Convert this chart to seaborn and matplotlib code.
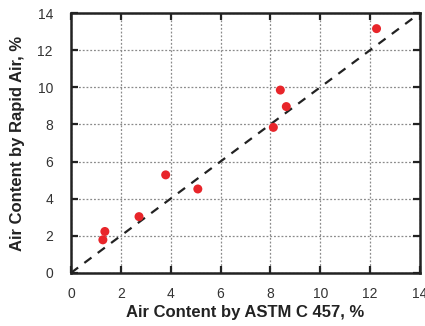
import matplotlib
matplotlib.use("Agg")
import matplotlib.pyplot as plt
import seaborn as sns
import pandas as pd

astm = [12.26, 8.40, 8.64, 8.12, 3.80, 5.09, 2.73, 1.36, 1.28]
rapid = [13.16, 9.85, 8.96, 7.84, 5.28, 4.52, 3.03, 2.23, 1.78]
line_x = [0, 14]
line_y = [0, 14]
ticks = [0, 2, 4, 6, 8, 10, 12, 14]

sns.set_theme(style="white")
plt.rcParams['font.family'] = ['Liberation Sans', 'DejaVu Sans']

df = pd.DataFrame({"astm": astm, "rapid": rapid})
fig = plt.figure(figsize=(4.25, 3.26), dpi=100)
ax = fig.add_axes([0.167, 0.163, 0.821, 0.797])

ax.set_xlim(0, 14)
ax.set_ylim(0, 14)
ax.set_xticks(ticks)
ax.set_yticks(ticks)
ax.grid(True, linestyle=(0, (1.5, 1.5)), color="#8a8a8a", linewidth=0.9)
sns.lineplot(x=line_x, y=line_y, ax=ax, color="#222222", linestyle=(0, (4, 3.5)), linewidth=1.6, zorder=3)
sns.scatterplot(data=df, x="astm", y="rapid", ax=ax, color="#e8252a", s=42, edgecolor="none", zorder=4)

for s in ax.spines.values():
    s.set_color("#222222")
    s.set_linewidth(1.8)
ax.tick_params(direction="in", length=5, width=1.6, top=True, right=True, left=True, bottom=True,
               labelsize=10, colors="#222222", labelcolor="#333333")
ax.tick_params(axis="x", pad=10)
ax.tick_params(axis="y", pad=13)
ax.set_xlabel("Air Content by ASTM C 457, %", fontsize=12, fontweight="bold", color="#222222", labelpad=3)
ax.set_ylabel("Air Content by Rapid Air, %", fontsize=12, fontweight="bold", color="#222222", labelpad=9)

fig.savefig("out.png", dpi=100)
